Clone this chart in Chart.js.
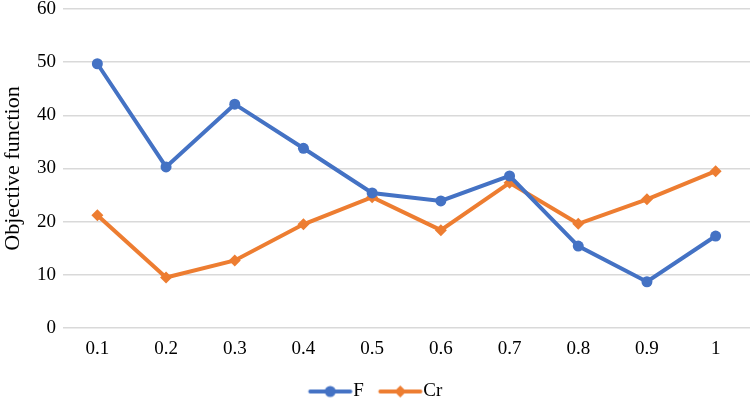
<!DOCTYPE html>
<html>
<head>
<meta charset="utf-8">
<script src="https://cdn.jsdelivr.net/npm/chart.js@4.4.1/dist/chart.umd.min.js"></script>
<style>
html,body{margin:0;padding:0;background:#fff;}
#wrap{width:750px;height:400px;position:relative;}
</style>
</head>
<body>
<div id="wrap"><canvas id="c" width="750" height="400"></canvas></div>
<script>
const categories = ['0.1','0.2','0.3','0.4','0.5','0.6','0.7','0.8','0.9','1'];
const seriesF  = [49.7, 30.3, 42.1, 33.8, 25.4, 23.9, 28.6, 15.4, 8.7, 17.3];
const seriesCr = [21.2, 9.5, 12.7, 19.5, 24.6, 18.4, 27.3, 19.6, 24.2, 29.5];
const yTicks = [0, 10, 20, 30, 40, 50, 60];

const BLUE = '#4472C4';
const ORANGE = '#ED7D31';
const FONT = "'Liberation Serif', 'Times New Roman', serif";

function legendIcon(color, shape) {
  const cv = document.createElement('canvas');
  cv.width = 62; cv.height = 14;
  const g = cv.getContext('2d');
  g.strokeStyle = color; g.lineWidth = 4; g.lineCap = 'round';
  g.beginPath(); g.moveTo(19.5, 7); g.lineTo(59.5, 7); g.stroke();
  g.fillStyle = color;
  g.beginPath();
  if (shape === 'circle') {
    g.arc(39.5, 7, 5.5, 0, Math.PI * 2);
  } else {
    g.moveTo(39.5, 1); g.lineTo(45.5, 7); g.lineTo(39.5, 13); g.lineTo(33.5, 7); g.closePath();
  }
  g.fill();
  return cv;
}
const iconF = legendIcon(BLUE, 'circle');
const iconCr = legendIcon(ORANGE, 'diamond');

const legendShift = {
  id: 'legendShift',
  afterLayout(chart) {
    if (chart.legend) { chart.legend.left -= 4; chart.legend.right -= 4; }
  }
};

new Chart(document.getElementById('c'), {
  type: 'line',
  data: {
    labels: categories,
    datasets: [
      { label: 'F', data: seriesF, borderColor: BLUE, backgroundColor: BLUE,
        borderWidth: 4, pointStyle: 'circle', pointRadius: 5.5, pointHoverRadius: 5.5,
        pointBackgroundColor: BLUE, pointBorderColor: BLUE, pointBorderWidth: 0, tension: 0 },
      { label: 'Cr', data: seriesCr, borderColor: ORANGE, backgroundColor: ORANGE,
        borderWidth: 4, pointStyle: 'rectRot', pointRadius: 6, pointHoverRadius: 6,
        pointBackgroundColor: ORANGE, pointBorderColor: ORANGE, pointBorderWidth: 0, tension: 0 }
    ]
  },
  plugins: [legendShift],
  options: {
    responsive: false,
    animation: false,
    devicePixelRatio: 1,
    layout: { autoPadding: false, padding: { left: 0, right: 0, top: 0, bottom: -11 } },
    plugins: {
      tooltip: { enabled: false },
      legend: {
        position: 'bottom',
        labels: {
          usePointStyle: true,
          pointStyleWidth: 44,
          boxHeight: 14,
          padding: 6,
          color: '#000',
          font: { family: FONT, size: 19 },
          generateLabels: (chart) => chart.data.datasets.map((ds, i) => ({
            text: ds.label,
            pointStyle: i === 0 ? iconF : iconCr,
            fillStyle: ds.borderColor,
            strokeStyle: ds.borderColor,
            lineWidth: 0,
            hidden: false,
            datasetIndex: i,
            fontColor: '#000'
          }))
        }
      }
    },
    scales: {
      x: {
        offset: true,
        grid: { display: false, drawTicks: false },
        border: { display: false },
        ticks: { color: '#000', font: { family: FONT, size: 19 }, padding: 10 },
        afterFit: (s) => { s.height = 48; s.paddingLeft = 0; s.paddingRight = 0; }
      },
      y: {
        min: 0, max: 60,
        afterBuildTicks: (s) => { s.ticks = yTicks.map(v => ({ value: v })); },
        grid: { color: '#D9D9D9', lineWidth: 1.5, drawTicks: false },
        border: { display: false },
        ticks: { color: '#000', font: { family: FONT, size: 19 }, padding: 7 },
        title: { display: true, text: 'Objective function', color: '#000',
                 font: { family: FONT, size: 22 }, padding: { top: 0, bottom: 2 } },
        afterFit: (s) => { s.width = 63; s.paddingTop = 9; s.paddingBottom = 0; s.paddingLeft = 0; s.paddingRight = 0; }
      }
    }
  }
});
</script>
</body>
</html>
